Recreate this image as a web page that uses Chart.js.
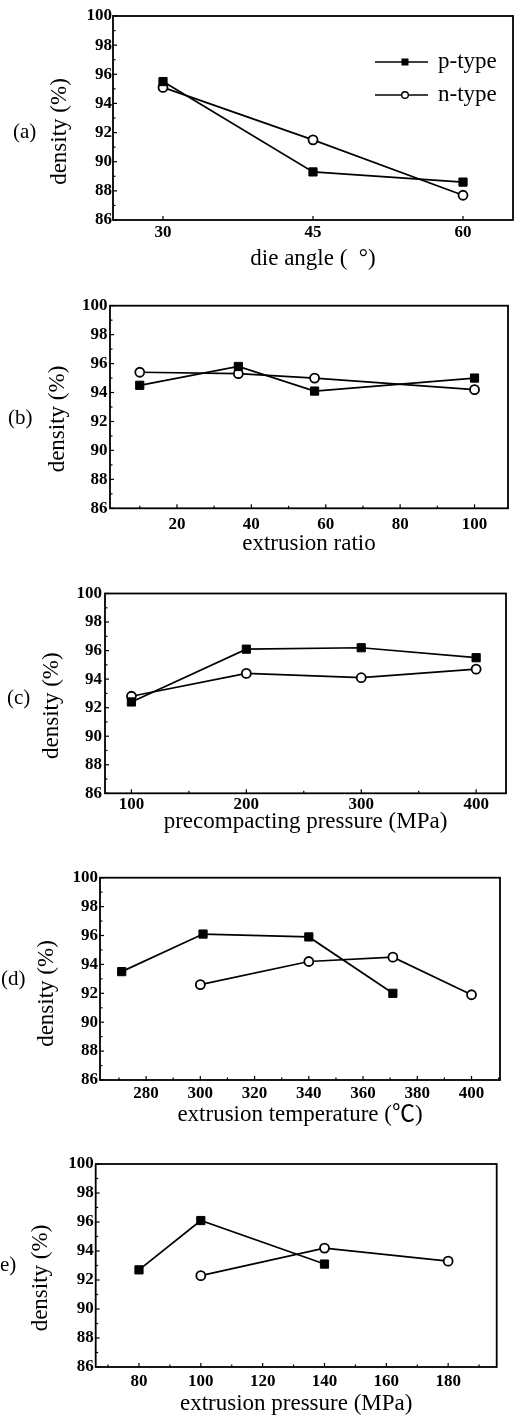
<!DOCTYPE html>
<html>
<head>
<meta charset="utf-8">
<script src="https://cdn.jsdelivr.net/npm/chart.js@4.4.1/dist/chart.umd.min.js"></script>
<style>
  body { margin: 0; background: #fff; width: 524px; height: 1421px; position: relative; overflow: hidden; }
  canvas { position: absolute; left: 0; }
</style>
</head>
<body>
<canvas id="panelA" width="524" height="285" style="top:0px"></canvas>
<canvas id="panelB" width="524" height="280" style="top:285px"></canvas>
<canvas id="panelC" width="524" height="280" style="top:565px"></canvas>
<canvas id="panelD" width="524" height="285" style="top:845px"></canvas>
<canvas id="panelE" width="524" height="291" style="top:1130px"></canvas>
<script>
// series names and shared y axis
const seriesNames = ['p-type', 'n-type'];
const densityTicks = [86, 88, 90, 92, 94, 96, 98, 100];

// (a) die angle
const angleTicks = [30, 45, 60];
const angleP_x = [30, 45, 60];
const angleP_y = [95.5, 89.3, 88.6];
const angleN_x = [30, 45, 60];
const angleN_y = [95.1, 91.5, 87.7];

// (b) extrusion ratio
const ratioTicks = [20, 40, 60, 80, 100];
const ratioP_x = [10, 36.5, 57, 100];
const ratioP_y = [94.5, 95.8, 94.1, 95.0];
const ratioN_x = [10, 36.5, 57, 100];
const ratioN_y = [95.4, 95.3, 95.0, 94.2];

// (c) precompacting pressure
const precompTicks = [100, 200, 300, 400];
const precompP_x = [100, 200, 300, 400];
const precompP_y = [92.4, 96.1, 96.2, 95.5];
const precompN_x = [100, 200, 300, 400];
const precompN_y = [92.8, 94.4, 94.1, 94.7];

// (d) extrusion temperature
const tempTicks = [280, 300, 320, 340, 360, 380, 400];
const tempP_x = [271, 301, 340, 371];
const tempP_y = [93.5, 96.1, 95.9, 92.0];
const tempN_x = [300, 340, 371, 400];
const tempN_y = [92.6, 94.2, 94.5, 91.9];

// (e) extrusion pressure
const pressTicks = [80, 100, 120, 140, 160, 180];
const pressP_x = [80, 100, 140];
const pressP_y = [92.7, 96.1, 93.1];
const pressN_x = [100, 140, 180];
const pressN_y = [92.3, 94.2, 93.3];

const SERIF = "'Liberation Serif', 'Times New Roman', 'Noto Sans CJK SC', serif";

const toPoints = (xs, ys) => xs.map((v, i) => ({ x: v, y: ys[i] }));

// frame, inward ticks, rotated y title and panel tag
const decor = {
  id: 'decor',
  beforeDatasetsDraw(chart, args, o) {
    const { ctx, chartArea: a, scales: { x, y } } = chart;
    ctx.save();
    ctx.strokeStyle = '#000';
    ctx.lineWidth = 1.8;
    ctx.strokeRect(a.left, a.top, a.right - a.left, a.bottom - a.top);
    ctx.lineWidth = 1.2;
    const xMajor = x.ticks.map(t => t.value);
    const step = o.xMinor || 1e9;
    const xs = o.xMinor ? [] : xMajor.slice();
    if (o.xMinor) {
      for (let v = Math.ceil(x.min / step) * step; v <= x.max; v += step) xs.push(v);
    }
    xs.forEach(v => {
      const px = x.getPixelForValue(v);
      const len = xMajor.includes(v) ? 4 : 2.5;
      ctx.beginPath();
      ctx.moveTo(px, a.bottom);
      ctx.lineTo(px, a.bottom - len);
      ctx.stroke();
    });
    for (let v = y.min; v <= y.max; v += 1) {
      const py = y.getPixelForValue(v);
      const len = v % 2 === 0 ? 4 : 2.5;
      ctx.beginPath();
      ctx.moveTo(a.left, py);
      ctx.lineTo(a.left + len, py);
      ctx.stroke();
    }
    ctx.restore();
  },
  afterDraw(chart, args, o) {
    const ctx = chart.ctx;
    ctx.save();
    ctx.fillStyle = '#000';
    ctx.font = '23px ' + SERIF;
    ctx.textAlign = 'center';
    ctx.textBaseline = 'middle';
    ctx.translate(o.yTitleX, o.yTitleY);
    ctx.rotate(-Math.PI / 2);
    ctx.fillText('density (%)', 0, 0);
    ctx.restore();

    ctx.save();
    ctx.fillStyle = '#000';
    ctx.font = '21px ' + SERIF;
    ctx.textAlign = 'left';
    ctx.textBaseline = 'middle';
    ctx.fillText(o.tag, o.tagX, o.tagY);
    ctx.restore();
  }
};

// legend inside panel (a), line through marker
const sampleLegend = {
  id: 'sampleLegend',
  afterDraw(chart) {
    const { ctx, chartArea: a } = chart;
    const rows = [a.top + 46, a.top + 79];
    ctx.save();
    rows.forEach((ry, i) => {
      ctx.strokeStyle = '#000';
      ctx.lineWidth = 1.4;
      ctx.beginPath();
      ctx.moveTo(a.right - 138, ry);
      ctx.lineTo(a.right - 85, ry);
      ctx.stroke();
      const mx = a.right - 108;
      if (i === 0) {
        ctx.fillStyle = '#000';
        ctx.fillRect(mx - 3.5, ry - 3.5, 7, 7);
      } else {
        ctx.fillStyle = '#fff';
        ctx.lineWidth = 1.4;
        ctx.beginPath();
        ctx.arc(mx, ry, 3.3, 0, Math.PI * 2);
        ctx.fill();
        ctx.stroke();
      }
      ctx.fillStyle = '#000';
      ctx.font = '23px ' + SERIF;
      ctx.textAlign = 'left';
      ctx.textBaseline = 'middle';
      ctx.fillText(seriesNames[i], a.right - 75, ry);
    });
    ctx.restore();
  }
};

function makePanel(id, p) {
  const canvas = document.getElementById(id);
  const H = canvas.height;
  const plugins = [decor];
  if (p.legend) plugins.push(sampleLegend);
  return new Chart(canvas, {
    type: 'scatter',
    data: {
      datasets: [
        {
          label: seriesNames[0],
          data: toPoints(p.px, p.py),
          showLine: true,
          borderColor: '#000',
          borderWidth: 1.7,
          pointStyle: 'rect',
          pointRadius: 5.8,
          pointBackgroundColor: '#000',
          pointBorderColor: '#000',
          pointBorderWidth: 1
        },
        {
          label: seriesNames[1],
          data: toPoints(p.nx, p.ny),
          showLine: true,
          borderColor: '#000',
          borderWidth: 1.7,
          pointStyle: 'circle',
          pointRadius: 4.5,
          pointBackgroundColor: '#fff',
          pointBorderColor: '#000',
          pointBorderWidth: 1.8
        }
      ]
    },
    options: {
      responsive: false,
      animation: false,
      devicePixelRatio: 1,
      layout: { padding: { left: 0, right: 524 - p.right, top: p.top, bottom: 0 } },
      scales: {
        x: {
          type: 'linear',
          min: p.xMin,
          max: p.xMax,
          afterBuildTicks: s => { s.ticks = p.xTicks.map(v => ({ value: v })); },
          afterFit: s => { s.height = H - p.bottom; },
          grid: { display: false, drawTicks: false },
          border: { display: false },
          ticks: {
            color: '#000',
            font: { family: SERIF, size: 17, weight: 'bold' },
            padding: p.xPad,
            maxRotation: 0,
            autoSkip: false
          },
          title: {
            display: true,
            text: p.xTitle,
            color: '#000',
            font: { family: SERIF, size: 23 },
            padding: { top: 0, bottom: p.titlePad }
          }
        },
        y: {
          min: 86,
          max: 100,
          afterBuildTicks: s => { s.ticks = densityTicks.map(v => ({ value: v })); },
          afterFit: s => { s.width = p.left; },
          grid: { display: false, drawTicks: false },
          border: { display: false },
          ticks: {
            color: '#000',
            font: { family: SERIF, size: 17, weight: 'bold' },
            padding: p.yPad,
            autoSkip: false
          }
        }
      },
      plugins: {
        legend: { display: false },
        tooltip: { enabled: false },
        decor: { yTitleX: p.yTitleX, yTitleY: p.yTitleY, tag: p.tag, tagX: p.tagX, tagY: p.tagY, xMinor: p.xMinor }
      }
    },
    plugins: plugins
  });
}

makePanel('panelA', {
  px: angleP_x, py: angleP_y, nx: angleN_x, ny: angleN_y,
  xTicks: angleTicks, xMin: 25, xMax: 65, xMinor: null,
  left: 113, right: 513, top: 16, bottom: 220,
  xPad: 2.8, yPad: 1, xTitle: 'die angle (  °)', titlePad: 12,
  yTitleX: 60, yTitleY: 131.5, tag: '(a)', tagX: 13, tagY: 132, legend: true
});

makePanel('panelB', {
  px: ratioP_x, py: ratioP_y, nx: ratioN_x, ny: ratioN_y,
  xTicks: ratioTicks, xMin: 2, xMax: 109, xMinor: 10,
  left: 110, right: 508, top: 20.7, bottom: 223.3,
  xPad: 5.8, yPad: 2.5, xTitle: 'extrusion ratio', titlePad: 7.5,
  yTitleX: 57.5, yTitleY: 134, tag: '(b)', tagX: 8, tagY: 133
});

makePanel('panelC', {
  px: precompP_x, py: precompP_y, nx: precompN_x, ny: precompN_y,
  xTicks: precompTicks, xMin: 77, xMax: 426, xMinor: 50,
  left: 105, right: 506, top: 28.5, bottom: 228.3,
  xPad: 1.5, yPad: 3, xTitle: 'precompacting pressure (MPa)', titlePad: 9,
  yTitleX: 51.5, yTitleY: 140.7, tag: '(c)', tagX: 7, tagY: 133
});

makePanel('panelD', {
  px: tempP_x, py: tempP_y, nx: tempN_x, ny: tempN_y,
  xTicks: tempTicks, xMin: 263, xMax: 410.5, xMinor: 10,
  left: 100, right: 500, top: 32.7, bottom: 235,
  xPad: 3.1, yPad: 2, xTitle: 'extrusion temperature (℃)', titlePad: 1,
  yTitleX: 46.5, yTitleY: 148.5, tag: '(d)', tagX: 1, tagY: 134
});

makePanel('panelE', {
  px: pressP_x, py: pressP_y, nx: pressN_x, ny: pressN_y,
  xTicks: pressTicks, xMin: 66, xMax: 195.7, xMinor: 10,
  left: 95.7, right: 496.7, top: 34, bottom: 237,
  xPad: 4.8, yPad: 2, xTitle: 'extrusion pressure (MPa)', titlePad: 3.5,
  yTitleX: 40.5, yTitleY: 148, tag: 'e)', tagX: 0, tagY: 135
});
</script>
</body>
</html>
